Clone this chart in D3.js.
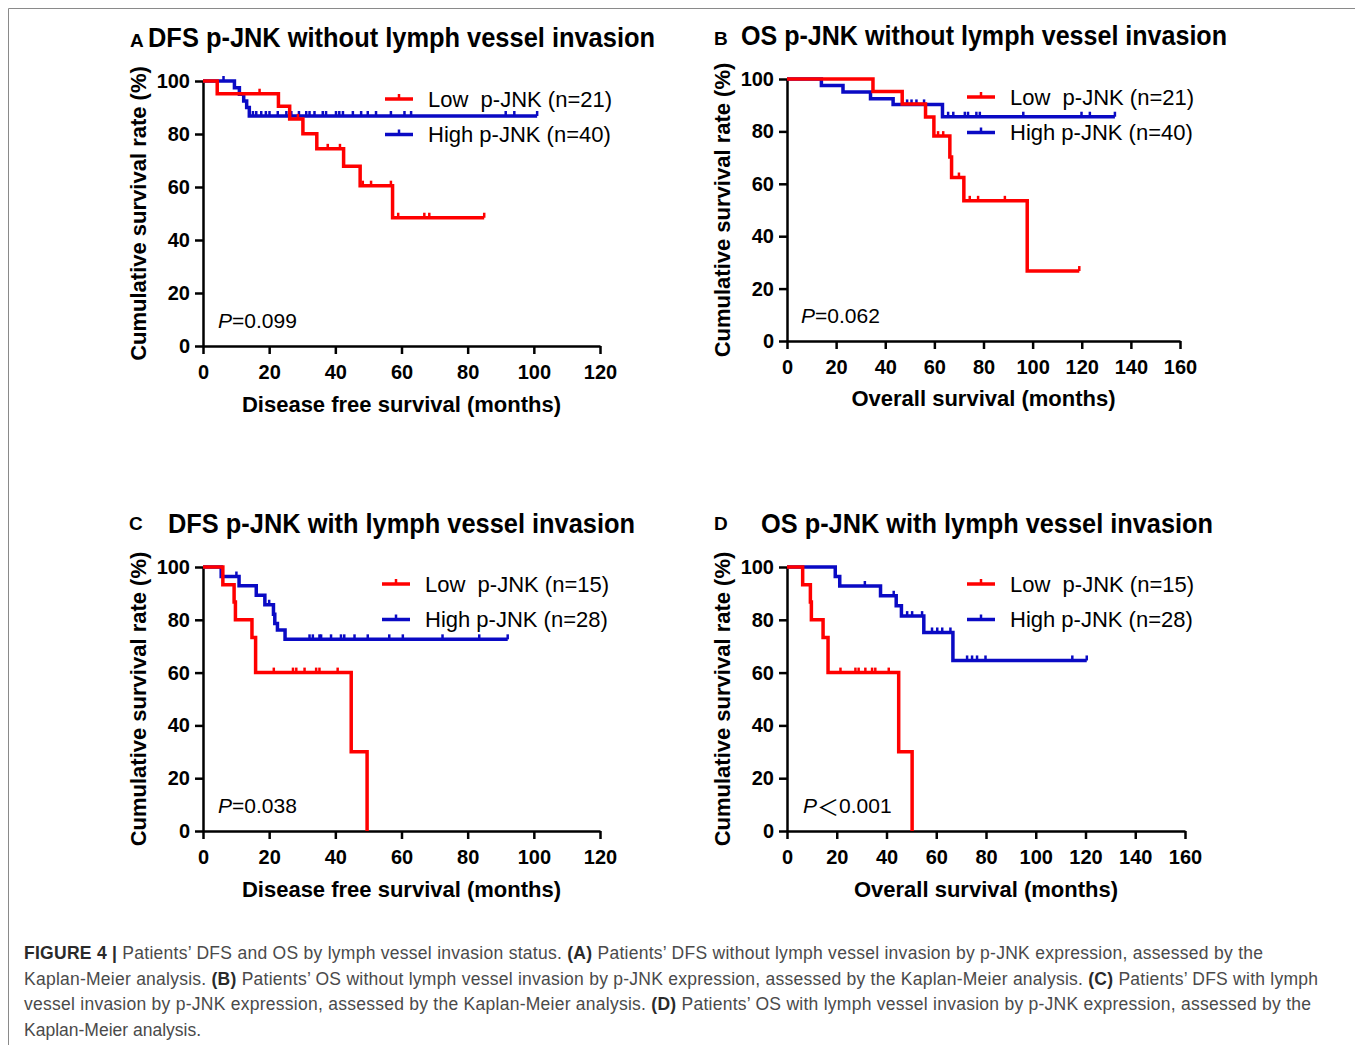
<!DOCTYPE html>
<html>
<head>
<meta charset="utf-8">
<script src="https://cdn.jsdelivr.net/npm/d3@7"></script>
<style>
  body { margin: 0; background: #fff; }
  svg { display: block; }
</style>
</head>
<body>
<svg id="fig" width="1355" height="1045"></svg>
<script>
// ---- data (months, % surviving) ----
const dfsTicks = [0, 20, 40, 60, 80, 100, 120];
const osTicks = [0, 20, 40, 60, 80, 100, 120, 140, 160];
const yTicks = [0, 20, 40, 60, 80, 100];

const letters = ["A", "B", "C", "D"];
const titles = [
  "DFS p-JNK without lymph vessel invasion",
  "OS p-JNK without lymph vessel invasion",
  "DFS p-JNK with lymph vessel invasion",
  "OS p-JNK with lymph vessel invasion"
];
const xLabels = ["Disease free survival (months)", "Overall survival (months)",
                 "Disease free survival (months)", "Overall survival (months)"];
const lowLabels = ["Low  p-JNK (n=21)", "Low  p-JNK (n=21)", "Low  p-JNK (n=15)", "Low  p-JNK (n=15)"];
const highLabels = ["High p-JNK (n=40)", "High p-JNK (n=40)", "High p-JNK (n=28)", "High p-JNK (n=28)"];
const pValues = ["=0.099", "=0.062", "=0.038", "\uFF1C0.001"];

// step points [time, survival] and censored times
const aLowSteps = [[0, 100], [4.3, 95.2], [22.8, 90.5], [26.2, 85.7], [30.2, 80.1], [34.4, 74.4], [42.5, 67.8], [47.5, 60.5], [57.3, 48.4]];
const aLowCensor = [17.1, 28.7, 37.7, 41.4, 48.3, 50.8, 56.8, 59, 66.9, 68.4, 85];
const aHighSteps = [[0, 100], [9.5, 97.5], [11, 95], [12.3, 92.5], [13.2, 90], [14, 86.8]];
const aHighCensor = [6.2, 15.1, 16.1, 17.6, 19, 20.1, 22.6, 25.2, 26.7, 29, 31.2, 32.2, 33.7, 36.2, 37.2, 40.2, 41.2, 42.3, 45.3, 47.8, 49.8, 52.3, 56.8, 60.9, 62.9, 91.5, 94.1, 101];

const bLowSteps = [[0, 100], [35, 95.2], [46.9, 90.5], [56.4, 85.5], [59.8, 78.2], [66.3, 70.2], [67, 62.4], [72, 53.5], [97.8, 26.7]];
const bLowCensor = [61.5, 63.6, 70, 74.4, 77.8, 88.7, 119];
const bHighSteps = [[0, 100], [14, 97.5], [22.8, 95], [34, 92.5], [43.2, 90.3], [63.3, 85.6]];
const bHighCensor = [48.9, 50.7, 52.7, 55.8, 65.6, 67.7, 72.4, 73.7, 77.1, 78.5, 96.2, 119.9, 123.3, 133.5];

const cLowSteps = [[0, 100], [6, 93.3], [9.4, 86.7], [9.8, 80], [14.8, 73.3], [15.9, 60], [44.8, 30], [49.6, 0]];
const cLowCensor = [21.4, 27.2, 28.2, 30.7, 34.2, 35.2, 40.7];
const cHighSteps = [[0, 100], [5.5, 96.4], [10.9, 92.9], [16.1, 89.3], [18.7, 85.7], [21.3, 82.1], [21.7, 78.6], [22.5, 76.1], [24.8, 72.6]];
const cHighCensor = [10.1, 20, 32.2, 33.2, 35.2, 35.7, 38.7, 41.7, 42.7, 45.8, 49.8, 56.3, 60.4, 72.4, 83.5, 92.1];

const dLowSteps = [[0, 100], [6.3, 93.3], [9.4, 86.7], [9.8, 80], [14.5, 73.3], [16.5, 60], [44.9, 30], [50.3, 0]];
const dLowCensor = [21.5, 27.5, 28.8, 31.5, 34.2, 35.5, 40.9];
const dHighSteps = [[0, 100], [19.4, 96.4], [21.2, 92.8], [37.6, 89.1], [43.9, 85.3], [46, 81.4], [55, 75.2], [66.7, 64.6]];
const dHighCensor = [31.3, 42.9, 48.3, 50.3, 54.3, 58.3, 60.4, 62.4, 65.7, 72.4, 74.4, 76.4, 79.8, 114.7, 120.5];

const captionLines = [
  [["FIGURE 4 |", true], [" Patients\u2019 DFS and OS by lymph vessel invasion status. ", false], ["(A)", true], [" Patients\u2019 DFS without lymph vessel invasion by p-JNK expression, assessed by the", false]],
  [["Kaplan-Meier analysis. ", false], ["(B)", true], [" Patients\u2019 OS without lymph vessel invasion by p-JNK expression, assessed by the Kaplan-Meier analysis. ", false], ["(C)", true], [" Patients\u2019 DFS with lymph", false]],
  [["vessel invasion by p-JNK expression, assessed by the Kaplan-Meier analysis. ", false], ["(D)", true], [" Patients\u2019 OS with lymph vessel invasion by p-JNK expression, assessed by the", false]],
  [["Kaplan-Meier analysis.", false]]
];

// ---- layout ----
const FONT = "Arial, 'Liberation Sans', Helvetica, sans-serif";
const RED = "#ff0000";
const BLUE = "#0a0ac4";

const panels = [
  { x0: 203, x1: 600, y0: 346, y1: 81, xMax: 120, ticks: dfsTicks, letterX: 130, letterY: 47, titleX: 148, titleY: 47, titleLen: 507,
    yLabX: 138, xLabY: 412, legX: 385, legY: 99, pX: 218, pY: 320, low: [aLowSteps, aLowCensor], high: [aHighSteps, aHighCensor] },
  { x0: 787, x1: 1180, y0: 341, y1: 79, xMax: 160, ticks: osTicks, letterX: 714, letterY: 45, titleX: 741, titleY: 45, titleLen: 486,
    yLabX: 722, xLabY: 406, legX: 967, legY: 97, pX: 801, pY: 315, low: [bLowSteps, bLowCensor], high: [bHighSteps, bHighCensor] },
  { x0: 203, x1: 600, y0: 831, y1: 567, xMax: 120, ticks: dfsTicks, letterX: 129, letterY: 530, titleX: 168, titleY: 533, titleLen: 467,
    yLabX: 138, xLabY: 897, legX: 382, legY: 584, pX: 218, pY: 805, low: [cLowSteps, cLowCensor], high: [cHighSteps, cHighCensor] },
  { x0: 787, x1: 1185, y0: 831, y1: 567, xMax: 160, ticks: osTicks, letterX: 714, letterY: 530, titleX: 761, titleY: 533, titleLen: 452,
    yLabX: 722, xLabY: 897, legX: 967, legY: 584, pX: 803, pY: 805, low: [dLowSteps, dLowCensor], high: [dHighSteps, dHighCensor] }
];

const svg = d3.select("#fig");

// outer frame of the figure page
svg.append("path")
  .attr("d", "M8.5,1045V8.5H1355")
  .attr("fill", "none")
  .attr("stroke", "#8a8a8a")
  .attr("stroke-width", 1);

function survAt(steps, t) {
  let s = steps[0][1];
  steps.forEach(d => { if (d[0] <= t) s = d[1]; });
  return s;
}

function kmPoints(steps, censor) {
  const last = steps[steps.length - 1];
  const end = d3.max(censor.concat([last[0]]));
  const pts = steps.slice();
  if (last[1] > 0 && end > last[0]) pts.push([end, last[1]]);
  return pts;
}

function drawCurve(g, x, y, steps, censor, color) {
  const line = d3.line()
    .x(d => x(d[0]))
    .y(d => y(d[1]))
    .curve(d3.curveStepAfter);
  g.append("path")
    .datum(kmPoints(steps, censor))
    .attr("d", line)
    .attr("fill", "none")
    .attr("stroke", color)
    .attr("stroke-width", 3.5);
  g.selectAll(null)
    .data(censor)
    .enter().append("line")
    .attr("x1", d => x(d)).attr("x2", d => x(d))
    .attr("y1", d => y(survAt(steps, d)))
    .attr("y2", d => y(survAt(steps, d)) - 5)
    .attr("stroke", color)
    .attr("stroke-width", 2.5);
}

function drawPanel(p, i) {
  const g = svg.append("g");
  const x = d3.scaleLinear().domain([0, p.xMax]).range([p.x0, p.x1]);
  const y = d3.scaleLinear().domain([0, 100]).range([p.y0, p.y1]);

  // titles
  g.append("text")
    .attr("x", p.letterX).attr("y", p.letterY)
    .attr("font-family", FONT).attr("font-size", 19).attr("font-weight", "bold")
    .text(letters[i]);
  g.append("text")
    .attr("x", p.titleX).attr("y", p.titleY)
    .attr("font-family", FONT).attr("font-size", 27).attr("font-weight", "bold")
    .attr("textLength", p.titleLen).attr("lengthAdjust", "spacingAndGlyphs")
    .text(titles[i]);

  // axes
  const xa = g.append("g")
    .attr("transform", `translate(0,${p.y0})`)
    .call(d3.axisBottom(x).tickValues(p.ticks).tickSize(8).tickSizeOuter(0).tickPadding(11));
  const ya = g.append("g")
    .attr("transform", `translate(${p.x0},0)`)
    .call(d3.axisLeft(y).tickValues(yTicks).tickSize(8).tickSizeOuter(0).tickPadding(5));
  [xa, ya].forEach(a => {
    a.selectAll("path, line").attr("stroke", "#000").attr("stroke-width", 2.5);
    a.selectAll("text")
      .attr("font-family", FONT).attr("font-size", 20).attr("font-weight", "bold").attr("fill", "#000");
  });

  g.append("text")
    .attr("x", (p.x0 + p.x1) / 2).attr("y", p.xLabY)
    .attr("text-anchor", "middle")
    .attr("font-family", FONT).attr("font-size", 22).attr("font-weight", "bold")
    .text(xLabels[i]);
  g.append("text")
    .attr("transform", `translate(${p.yLabX},${(p.y0 + p.y1) / 2}) rotate(-90)`)
    .attr("text-anchor", "middle").attr("dominant-baseline", "central")
    .attr("font-family", FONT).attr("font-size", 22).attr("font-weight", "bold")
    .text("Cumulative survival rate (%)");

  // curves: high drawn first, low on top
  drawCurve(g, x, y, p.high[0], p.high[1], BLUE);
  drawCurve(g, x, y, p.low[0], p.low[1], RED);

  // legend
  [[lowLabels[i], RED], [highLabels[i], BLUE]].forEach((d, k) => {
    const ly = p.legY + k * 35.5;
    g.append("line")
      .attr("x1", p.legX).attr("x2", p.legX + 28).attr("y1", ly).attr("y2", ly)
      .attr("stroke", d[1]).attr("stroke-width", 3.5);
    g.append("line")
      .attr("x1", p.legX + 14).attr("x2", p.legX + 14).attr("y1", ly).attr("y2", ly - 5)
      .attr("stroke", d[1]).attr("stroke-width", 2.5);
    g.append("text")
      .attr("x", p.legX + 43).attr("y", ly)
      .attr("dominant-baseline", "central")
      .attr("font-family", FONT).attr("font-size", 22)
      .style("white-space", "pre")
      .text(d[0]);
  });

  // p value
  const pt = g.append("text")
    .attr("x", p.pX).attr("y", p.pY)
    .attr("dominant-baseline", "central")
    .attr("font-family", FONT).attr("font-size", 21);
  pt.append("tspan").attr("font-style", "italic").text("P");
  const val = pValues[i];
  if (val[0] === "\uFF1C") {
    pt.append("tspan").attr("font-family", "'Noto Sans CJK SC', " + FONT).attr("font-size", 22).text(val[0]);
    pt.append("tspan").text(val.slice(1));
  } else {
    pt.append("tspan").text(val);
  }
}

panels.forEach(drawPanel);

// caption
const capLens = [1239, 1294, 1287, null];
captionLines.forEach((segs, i) => {
  const t = svg.append("text")
    .attr("x", 24).attr("y", 959 + i * 25.5)
    .attr("font-family", FONT).attr("font-size", 17.5)
    .attr("fill", "#4a4a4a")
    .style("white-space", "pre");
  if (capLens[i]) t.attr("textLength", capLens[i]).attr("lengthAdjust", "spacing");
  segs.forEach(s => {
    t.append("tspan")
      .attr("font-weight", s[1] ? "bold" : "normal")
      .attr("fill", s[1] ? "#2a2a2a" : "#4a4a4a")
      .text(s[0]);
  });
});
</script>
</body>
</html>
